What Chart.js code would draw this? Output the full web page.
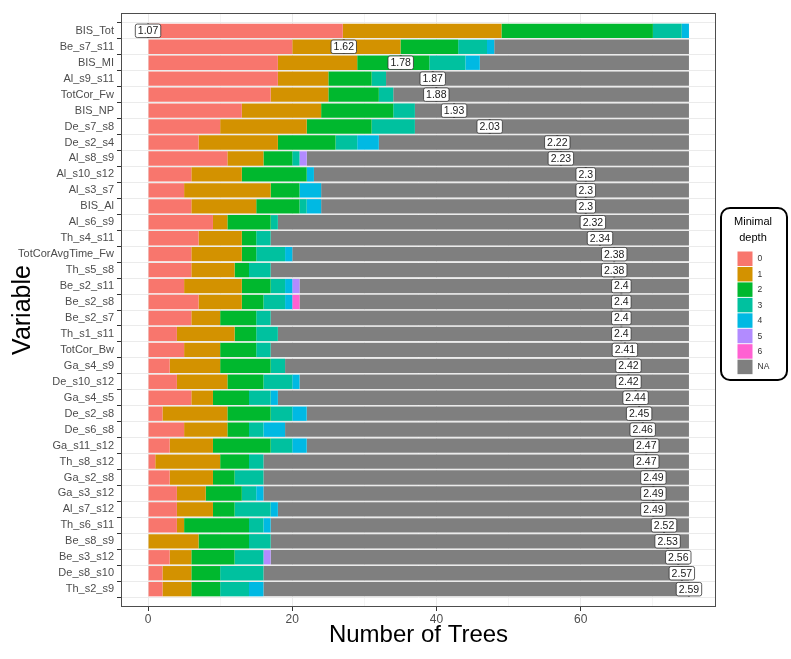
<!DOCTYPE html>
<html><head><meta charset="utf-8">
<script src="https://cdn.jsdelivr.net/npm/chart.js@4.4.1/dist/chart.umd.min.js"></script>
<style>html,body{margin:0;padding:0;background:#fff}#wrap{width:791px;height:659px;position:relative}</style>
</head><body><div id="wrap"><canvas id="c" width="791" height="659"></canvas></div>
<script>
const variables = ["BIS_Tot","Be_s7_s11","BIS_MI","Al_s9_s11","TotCor_Fw","BIS_NP","De_s7_s8","De_s2_s4","Al_s8_s9","Al_s10_s12","Al_s3_s7","BIS_Al","Al_s6_s9","Th_s4_s11","TotCorAvgTime_Fw","Th_s5_s8","Be_s2_s11","Be_s2_s8","Be_s2_s7","Th_s1_s11","TotCor_Bw","Ga_s4_s9","De_s10_s12","Ga_s4_s5","De_s2_s8","De_s6_s8","Ga_s11_s12","Th_s8_s12","Ga_s2_s8","Ga_s3_s12","Al_s7_s12","Th_s6_s11","Be_s8_s9","Be_s3_s12","De_s8_s10","Th_s2_s9"];
const depth0 = [27,20,18,18,17,13,10,7,11,6,5,6,9,7,6,6,5,7,6,4,5,3,4,6,2,5,3,1,3,4,4,4,0,3,2,2];
const depth1 = [22,15,11,7,8,11,12,11,5,7,12,9,2,6,7,6,8,6,4,8,5,7,7,3,9,6,6,9,6,4,5,1,7,3,4,4];
const depth2 = [21,8,10,6,7,10,9,8,4,9,4,6,6,2,2,2,4,3,5,3,5,7,5,5,6,3,8,4,3,5,3,9,7,6,4,4];
const depth3 = [4,4,5,2,2,3,6,3,1,0,0,1,1,2,4,3,2,3,2,3,2,2,4,3,3,2,3,2,4,2,5,2,3,4,6,4];
const depth4 = [1,1,2,0,0,0,0,3,0,1,3,2,0,0,1,0,1,1,0,0,0,0,1,1,2,3,2,0,0,1,1,1,0,0,0,2];
const depth5 = [0,0,0,0,0,0,0,0,1,0,0,0,0,0,0,0,1,0,0,0,0,0,0,0,0,0,0,0,0,0,0,0,0,1,0,0];
const depth6 = [0,0,0,0,0,0,0,0,0,0,0,0,0,0,0,0,0,1,0,0,0,0,0,0,0,0,0,0,0,0,0,0,0,0,0,0];
const depthNA = [0,27,29,42,41,38,38,43,53,52,51,51,57,58,55,58,54,54,58,57,58,56,54,57,53,56,53,59,59,59,57,58,58,58,59,59];
const meanDepth = [1.07,1.62,1.78,1.87,1.88,1.93,2.03,2.22,2.23,2.3,2.3,2.3,2.32,2.34,2.38,2.38,2.4,2.4,2.4,2.4,2.41,2.42,2.42,2.44,2.45,2.46,2.47,2.47,2.49,2.49,2.49,2.52,2.53,2.56,2.57,2.59];
const depthLevels = ["0","1","2","3","4","5","6","NA"];
const xTicks = [0,10,20,30,40,50,60,70];

const seriesList = [depth0,depth1,depth2,depth3,depth4,depth5,depth6,depthNA];
const colors = ["#F8766D","#D39200","#00B82E","#00C19F","#00B9E3","#B28BFF","#FF61D2","#7F7F7F"];
const FONT = "'Liberation Sans', Arial, sans-serif";
Chart.defaults.font.family = FONT;

const datasets = seriesList.map((arr, k) => ({
  label: depthLevels[k],
  data: arr.map((v, i) => ({x: v, y: i})),
  backgroundColor: colors[k],
  borderWidth: 0,
  barPercentage: 0.9,
  categoryPercentage: 1.0
}));

const nTot = depth0.map((_, i) => seriesList.reduce((s, a) => s + a[i], 0));
const maxTot = Math.max(...nTot);
const mMin = Math.min(...meanDepth), mMax = Math.max(...meanDepth);

const overlay = {
  id: 'overlay',
  afterDatasetsDraw(chart) {
    const {ctx, chartArea: a, scales: {x, y}} = chart;
    const barH = (y.getPixelForValue(1) - y.getPixelForValue(0)) * 0.9;
    ctx.save();
    // mean depth labels
    ctx.font = "10.5px " + FONT;
    ctx.textAlign = 'center';
    ctx.textBaseline = 'middle';
    meanDepth.forEach((m, i) => {
      const pos = (m - mMin) / (mMax - mMin) * maxTot;
      const px = x.getPixelForValue(pos);
      const py = y.getPixelForValue(i);
      ctx.strokeStyle = '#000';
      ctx.lineWidth = 2;
      ctx.beginPath(); ctx.moveTo(px, py - barH / 2); ctx.lineTo(px, py + barH / 2); ctx.stroke();
      const txt = String(m);
      const w = ctx.measureText(txt).width + 5;
      const h = 13.5;
      ctx.beginPath();
      ctx.roundRect(px - w / 2, py - h / 2, w, h, 2);
      ctx.fillStyle = '#fff'; ctx.fill();
      ctx.lineWidth = 0.8; ctx.strokeStyle = '#333'; ctx.stroke();
      ctx.fillStyle = '#1a1a1a';
      ctx.fillText(txt, px, py + 0.5);
    });
    // panel border
    ctx.strokeStyle = '#4d4d4d';
    ctx.lineWidth = 1;
    ctx.strokeRect(a.left + 0.5, a.top + 0.5, a.right - a.left - 1, a.bottom - a.top - 1);
    ctx.restore();
  },
  afterDraw(chart) {
    const {ctx} = chart;
    ctx.save();
    ctx.beginPath();
    ctx.roundRect(721, 208, 66, 172, 9);
    ctx.lineWidth = 2; ctx.strokeStyle = '#000'; ctx.stroke();
    ctx.fillStyle = '#000';
    ctx.font = "11px " + FONT;
    ctx.textAlign = 'center'; ctx.textBaseline = 'middle';
    ctx.fillText('Minimal', 753, 222);
    ctx.fillText('depth', 753, 238);
    ctx.font = "8.5px " + FONT;
    ctx.textAlign = 'left';
    depthLevels.forEach((lv, k) => {
      const top = 251.5 + k * 15.45;
      ctx.fillStyle = colors[k];
      ctx.fillRect(737.5, top, 15, 14.5);
      ctx.fillStyle = '#333';
      ctx.fillText(lv, 757.5, top + 7.5);
    });
    ctx.restore();
  }
};

new Chart(document.getElementById('c'), {
  type: 'bar',
  data: {datasets},
  options: {
    indexAxis: 'y',
    responsive: false,
    animation: false,
    devicePixelRatio: 1,
    layout: {padding: {top: 13, right: 75, left: 0, bottom: 0}},
    plugins: {legend: {display: false}, tooltip: {enabled: false}},
    scales: {
      x: {
        type: 'linear', stacked: true, min: -3.75, max: 78.75,
        afterBuildTicks: s => { s.ticks = xTicks.map(v => ({value: v})); },
        afterFit: s => { s.height = 52; },
        border: {display: false},
        grid: {
          color: '#EBEBEB',
          lineWidth: c => (c.tick && c.tick.value % 20 === 0) ? 1 : 0.5,
          tickColor: c => (c.tick && c.tick.value % 20 === 0) ? '#333' : 'rgba(0,0,0,0)',
          tickLength: 4
        },
        ticks: {
          callback: v => (v % 20 === 0 ? String(v) : ''),
          color: '#4D4D4D', font: {size: 12}, padding: 1, maxRotation: 0, autoSkip: false
        },
        title: {display: true, text: 'Number of Trees', color: '#000', font: {size: 24}, padding: {top: 0, bottom: 9}}
      },
      y: {
        type: 'linear', stacked: true, reverse: true, min: -0.6, max: variables.length - 0.4,
        afterBuildTicks: s => { s.ticks = variables.map((_, i) => ({value: i})); },
        afterFit: s => { s.width = 121; },
        border: {display: false},
        grid: {color: '#EBEBEB', tickColor: '#333', tickLength: 4, lineWidth: 1},
        ticks: {
          callback: v => variables[v],
          color: '#4D4D4D', font: {size: 11}, padding: 3, autoSkip: false
        },
        title: {display: true, text: 'Variable', color: '#000', font: {size: 25}, padding: {top: 8, bottom: 0}}
      }
    }
  },
  plugins: [overlay]
});
</script>
</body></html>
